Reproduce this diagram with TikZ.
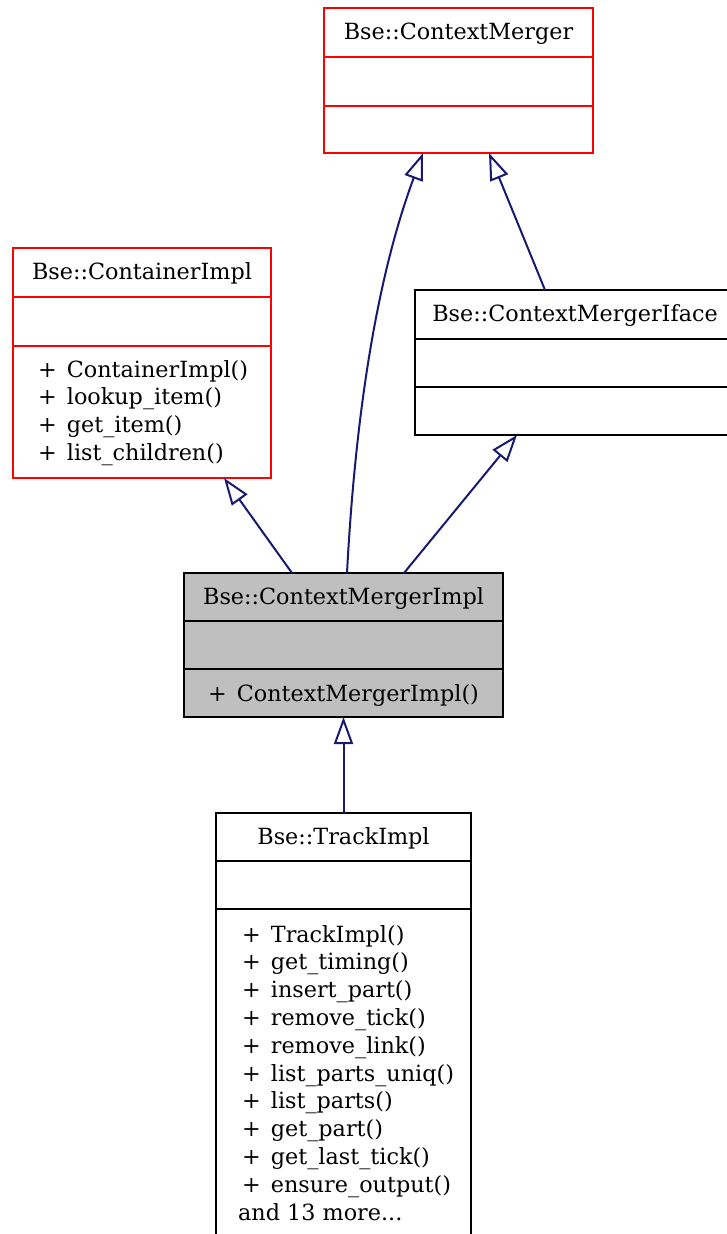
\documentclass[tikz,border=0pt]{standalone}
\usepackage{fontspec}
\setmainfont{DejaVu Serif}
\usetikzlibrary{arrows.meta}

\definecolor{edgeblue}{RGB}{25,25,112}
\definecolor{implgray}{RGB}{191,191,191}

\tikzset{
        classbox/.style={draw, line width=2pt, anchor=north west, inner sep=0pt, outer sep=0pt},
        classname/.style={anchor=base, inner sep=0pt, font=\fontsize{22.3}{27.8}\selectfont},
        member/.style={anchor=base west, inner sep=0pt, font=\fontsize{22.3}{27.8}\selectfont},
        inherit/.style={draw=edgeblue, line width=2pt, -{Triangle[open, length=27pt, width=19pt]}}
}

\begin{document}
\begin{tikzpicture}[x=1pt, y=-1pt]
        \useasboundingbox (0,0) rectangle (727,1234);

        \node[classbox, draw=red, minimum width=269pt, minimum height=145pt] (merger) at (324,8) {};
        \draw[red, line width=2pt] (324,57) -- (593,57) (324,106) -- (593,106);
        \node[classname] (merger-name) at (458.5,39) {Bse::ContextMerger};

        \node[classbox, draw=red, minimum width=258pt, minimum height=230pt] (container) at (13,248) {};
        \draw[red, line width=2pt] (13,297) -- (271,297) (13,346) -- (271,346);
        \node[classname] (container-name) at (142,279) {Bse::ContainerImpl};
        \foreach \m [count=\i from 0] in {ContainerImpl(), lookup\_item(), get\_item(), list\_children()}
        {
            \node[member] (container-m\i) at (38,377+27.8*\i) {+\hspace{10pt}\m};
        }

        \node[classbox, minimum width=320pt, minimum height=145pt] (iface) at (415,290) {};
        \draw[line width=2pt] (415,339) -- (735,339) (415,387) -- (735,387);
        \node[classname] (iface-name) at (575,321) {Bse::ContextMergerIface};

        \node[classbox, fill=implgray, minimum width=319pt, minimum height=144pt] (impl) at (184,573) {};
        \draw[line width=2pt] (184,621) -- (503,621) (184,669) -- (503,669);
        \node[classname] (impl-name) at (343.5,604) {Bse::ContextMergerImpl};
        \node[classname] (impl-m0) at (343.5,701) {+\hspace{10pt}ContextMergerImpl()};

        \node[classbox, minimum width=255pt, minimum height=440pt] (track) at (216,813) {};
        \draw[line width=2pt] (216,861) -- (471,861) (216,909) -- (471,909);
        \node[classname] (track-name) at (343.5,844) {Bse::TrackImpl};
        \foreach \m [count=\i from 0] in {TrackImpl(), get\_timing(), insert\_part(), remove\_tick(),
                remove\_link(), list\_parts\_uniq(), list\_parts(), get\_part(), get\_last\_tick(), ensure\_output()}
        {
            \node[member] (track-m\i) at (242,942+27.8*\i) {+\hspace{10pt}\m};
        }
        \node[member] (track-more) at (238,1220) {and 13 more...};

        \draw[inherit] ([xshift=-51.5pt]impl.north) -- ([xshift=82pt]container.south);
        \draw[inherit] ([xshift=3.5pt]impl.north) .. controls (354,440) and (372,290) .. ([xshift=-35.5pt]merger.south);
        \draw[inherit] ([xshift=60.5pt]impl.north) -- ([xshift=-58pt]iface.south);
        \draw[inherit] ([xshift=-30pt]iface.north) -- ([xshift=30.5pt]merger.south);
        \draw[inherit] (track.north) -- (impl.south);
\end{tikzpicture}
\end{document}
